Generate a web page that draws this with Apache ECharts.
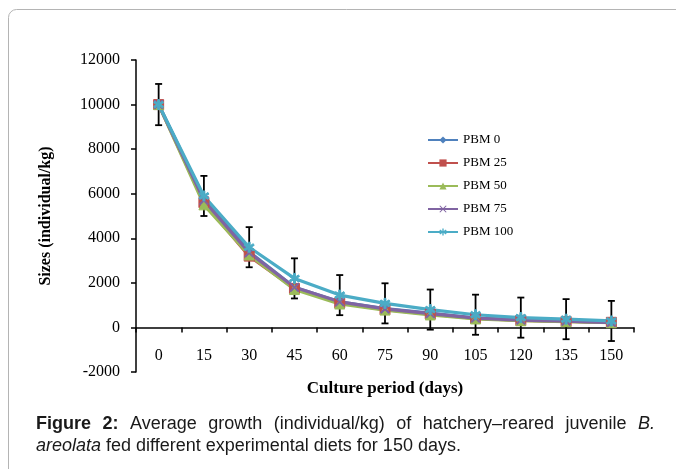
<!DOCTYPE html>
<html>
<head>
<meta charset="utf-8">
<script src="https://cdn.jsdelivr.net/npm/echarts@6/dist/echarts.min.js"></script>
<style>
html, body { margin: 0; padding: 0; background: #fff; }
#root { width: 676px; height: 469px; }
</style>
</head>
<body>
<div id="root"></div>
<script>
// data
var days = ['0', '15', '30', '45', '60', '75', '90', '105', '120', '135', '150'];
var pbm0 = [10000, 5800, 3400, 1800, 1150, 850, 640, 420, 330, 280, 230];
var pbm25 = [10000, 5600, 3200, 1750, 1100, 800, 600, 400, 320, 270, 230];
var pbm50 = [10000, 5500, 3250, 1700, 1050, 780, 560, 380, 300, 260, 210];
var pbm75 = [10000, 5700, 3350, 1800, 1150, 830, 620, 420, 330, 280, 220];
var pbm100 = [10000, 5900, 3600, 2200, 1450, 1080, 800, 570, 440, 370, 290];
var errPbm100 = [925, 900, 900, 900, 900, 900, 900, 900, 900, 900, 900];
var yTicks = { min: -2000, max: 12000, step: 2000 };

var serif = '"Liberation Serif", "Times New Roman", serif';
var sans = '"Liberation Sans", Arial, sans-serif';

var chart = echarts.init(document.getElementById('root'));

// grid geometry, x axis is pulled up onto the zero line
var gridTop = 60, gridBottom = 97, gridH = 469 - gridTop - gridBottom;
var zeroOffset = gridH * (0 - yTicks.min) / (yTicks.max - yTicks.min);

function lineSeries(name, data, color, symbol, size) {
  return {
    name: name,
    type: 'line',
    data: data,
    symbol: symbol,
    symbolSize: size,
    z: 3,
    lineStyle: { color: color, width: 3.2 },
    itemStyle: { color: color, borderColor: color },
    emphasis: { disabled: true }
  };
}

// asterisk / cross markers
var starPath = 'path://M-1,-5L1,-5L1,-1.5L4.3,-3.5L5.3,-1.8L2,0L5.3,1.8L4.3,3.5L1,1.5L1,5L-1,5L-1,1.5L-4.3,3.5L-5.3,1.8L-2,0L-5.3,-1.8L-4.3,-3.5L-1,-1.5Z';
var crossPath = 'path://M-5,-4L-4,-5L0,-1L4,-5L5,-4L1,0L5,4L4,5L0,1L-4,5L-5,4L-1,0Z';

var errData = pbm100.map(function (v, i) { return [i, v - errPbm100[i], v + errPbm100[i]]; });

// justified first caption line
var ctx = document.createElement('canvas').getContext('2d');
var cap1 = [
  { t: 'Figure', w: 'bold', s: 'normal' },
  { t: '2:', w: 'bold', s: 'normal' },
  { t: 'Average', w: 'normal', s: 'normal' },
  { t: 'growth', w: 'normal', s: 'normal' },
  { t: '(individual/kg)', w: 'normal', s: 'normal' },
  { t: 'of', w: 'normal', s: 'normal' },
  { t: 'hatchery\u2013reared', w: 'normal', s: 'normal' },
  { t: 'juvenile', w: 'normal', s: 'normal' },
  { t: 'B.', w: 'normal', s: 'italic' }
];
var capLeft = 36, capRight = 655, capSize = 18;
var total = 0;
cap1.forEach(function (c) {
  ctx.font = c.s + ' ' + c.w + ' ' + capSize + 'px ' + sans;
  c.width = ctx.measureText(c.t).width;
  total += c.width;
});
var gap = (capRight - capLeft - total) / (cap1.length - 1);
var cx = capLeft;
var graphics = [{
  type: 'rect',
  shape: { x: 8.5, y: 9.5, width: 720, height: 520, r: 8 },
  style: { fill: 'none', stroke: '#b4b4b4', lineWidth: 1 },
  silent: true
}];
cap1.forEach(function (c) {
  graphics.push({
    type: 'text', x: cx, y: 424,
    style: { text: c.t, font: c.s + ' ' + c.w + ' ' + capSize + 'px ' + sans, fill: '#1a1a1a', verticalAlign: 'middle' }
  });
  cx += c.width + gap;
});
graphics.push({
  type: 'text', x: capLeft, y: 446,
  style: {
    text: '{i|areolata} fed different experimental diets for 150 days.',
    font: capSize + 'px ' + sans, fill: '#1a1a1a', verticalAlign: 'middle',
    rich: { i: { fontStyle: 'italic', fontSize: capSize, fontFamily: sans, fill: '#1a1a1a' } }
  }
});

chart.setOption({
  animation: false,
  graphic: graphics,
  grid: { left: 136, right: 42, top: gridTop, bottom: gridBottom },
  legend: {
    orient: 'vertical',
    left: 422,
    top: 126,
    itemWidth: 30,
    itemHeight: 9,
    itemGap: 5,
    textStyle: { fontFamily: serif, fontSize: 13, color: '#000', lineHeight: 18 },
    data: ['PBM 0', 'PBM 25', 'PBM 50', 'PBM 75', 'PBM 100']
  },
  xAxis: {
    type: 'category',
    data: days,
    boundaryGap: true,
    offset: -zeroOffset,
    name: 'Culture period (days)',
    nameLocation: 'middle',
    nameGap: 53,
    nameTextStyle: { fontFamily: serif, fontSize: 17, fontWeight: 'bold', color: '#000' },
    axisLine: { onZero: false, lineStyle: { color: '#000', width: 1.5 } },
    axisTick: { show: true, interval: 0, length: 5, lineStyle: { color: '#000', width: 1.5 } },
    axisLabel: { fontFamily: serif, fontSize: 16, color: '#000', margin: 20, interval: 0 },
    splitLine: { show: false }
  },
  yAxis: {
    type: 'value',
    min: yTicks.min,
    max: yTicks.max,
    interval: yTicks.step,
    name: 'Sizes (individual/kg)',
    nameLocation: 'middle',
    nameGap: 82,
    nameTextStyle: { fontFamily: serif, fontSize: 16, fontWeight: 'bold', color: '#000' },
    axisLine: { show: true, onZero: false, lineStyle: { color: '#000', width: 1.5 } },
    axisTick: { show: true, length: 5, lineStyle: { color: '#000', width: 1.5 } },
    axisLabel: { fontFamily: serif, fontSize: 16, color: '#000', margin: 16, formatter: function (v) { return String(v); } },
    splitLine: { show: false }
  },
  series: [
    {
      type: 'custom',
      name: 'err',
      z: 1,
      data: errData,
      encode: { x: 0, y: [1, 2] },
      renderItem: function (params, api) {
        var x = api.value(0);
        var lo = api.coord([x, api.value(1)]);
        var hi = api.coord([x, api.value(2)]);
        var h = 3.5;
        var st = { stroke: '#000', lineWidth: 1.8 };
        return {
          type: 'group',
          children: [
            { type: 'line', shape: { x1: lo[0], y1: lo[1], x2: hi[0], y2: hi[1] }, style: st },
            { type: 'line', shape: { x1: lo[0] - h, y1: lo[1], x2: lo[0] + h, y2: lo[1] }, style: st },
            { type: 'line', shape: { x1: hi[0] - h, y1: hi[1], x2: hi[0] + h, y2: hi[1] }, style: st }
          ]
        };
      }
    },
    lineSeries('PBM 0', pbm0, '#4F81BD', 'diamond', 9),
    lineSeries('PBM 25', pbm25, '#C0504D', 'rect', 10),
    lineSeries('PBM 50', pbm50, '#9BBB59', 'triangle', 10),
    lineSeries('PBM 75', pbm75, '#8064A2', crossPath, 9),
    lineSeries('PBM 100', pbm100, '#4BACC6', starPath, 10)
  ]
});
</script>
</body>
</html>
